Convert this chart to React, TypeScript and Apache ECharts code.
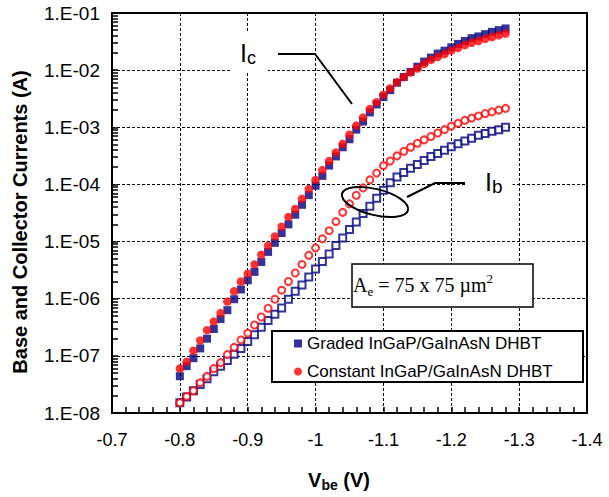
import React, { useEffect, useRef } from 'react';
import * as echarts from 'echarts';

// Base-emitter voltage (V)
const VBE = [
  -0.80, -0.81, -0.82, -0.83, -0.84, -0.85, -0.86, -0.87, -0.88, -0.89,
  -0.90, -0.91, -0.92, -0.93, -0.94, -0.95, -0.96, -0.97, -0.98, -0.99,
  -1.00, -1.01, -1.02, -1.03, -1.04, -1.05, -1.06, -1.07, -1.08, -1.09,
  -1.10, -1.11, -1.12, -1.13, -1.14, -1.15, -1.16, -1.17, -1.18, -1.19,
  -1.20, -1.21, -1.22, -1.23, -1.24, -1.25, -1.26, -1.27, -1.28,
];

// Collector current, graded InGaP/GaInAsN DHBT (A)
const IC_GRADED = [
  4.4e-8, 6.6e-8, 9.1e-8, 1.35e-7, 2.0e-7, 2.95e-7, 4.4e-7, 6.3e-7, 9.8e-7, 1.45e-6,
  2.1e-6, 2.95e-6, 4.4e-6, 6.6e-6, 9.5e-6, 1.41e-5, 2.0e-5, 2.95e-5, 4.4e-5, 6.5e-5,
  9.5e-5, 1.41e-4, 2.14e-4, 3.09e-4, 4.47e-4, 6.17e-4, 9.1e-4, 1.26e-3, 1.82e-3, 2.51e-3,
  3.39e-3, 4.47e-3, 6.03e-3, 7.59e-3, 9.33e-3, 1.15e-2, 1.41e-2, 1.66e-2, 1.95e-2, 2.19e-2,
  2.51e-2, 2.88e-2, 3.24e-2, 3.63e-2, 3.89e-2, 4.27e-2, 4.68e-2, 5.01e-2, 5.37e-2,
];

// Collector current, constant InGaP/GaInAsN DHBT (A)
const IC_CONSTANT = [
  6.0e-8, 7.9e-8, 1.23e-7, 1.86e-7, 2.82e-7, 3.98e-7, 5.6e-7, 8.9e-7, 1.35e-6, 2.0e-6,
  2.75e-6, 3.98e-6, 5.9e-6, 8.5e-6, 1.23e-5, 1.82e-5, 2.69e-5, 3.72e-5, 5.6e-5, 8.3e-5,
  1.2e-4, 1.78e-4, 2.57e-4, 3.63e-4, 5.13e-4, 7.41e-4, 1.07e-3, 1.48e-3, 2.09e-3, 2.75e-3,
  3.72e-3, 4.79e-3, 6.17e-3, 7.59e-3, 9.12e-3, 1.07e-2, 1.29e-2, 1.51e-2, 1.70e-2, 1.91e-2,
  2.19e-2, 2.45e-2, 2.75e-2, 3.02e-2, 3.24e-2, 3.55e-2, 3.80e-2, 4.07e-2, 4.37e-2,
];

// Base current, graded InGaP/GaInAsN DHBT (A)
const IB_GRADED = [
  1.51e-8, 1.91e-8, 2.45e-8, 3.16e-8, 3.98e-8, 5.25e-8, 6.6e-8, 8.3e-8, 1.07e-7, 1.35e-7,
  1.78e-7, 2.34e-7, 3.16e-7, 4.17e-7, 5.37e-7, 6.9e-7, 9.8e-7, 1.35e-6, 1.74e-6, 2.4e-6,
  3.31e-6, 4.47e-6, 6.03e-6, 8.5e-6, 1.15e-5, 1.62e-5, 2.19e-5, 3.09e-5, 4.17e-5, 5.75e-5,
  7.9e-5, 1.07e-4, 1.35e-4, 1.62e-4, 1.91e-4, 2.24e-4, 2.63e-4, 3.09e-4, 3.47e-4, 3.98e-4,
  4.57e-4, 5.13e-4, 5.75e-4, 6.46e-4, 7.24e-4, 7.76e-4, 8.5e-4, 9.1e-4, 1.0e-3,
];

// Base current, constant InGaP/GaInAsN DHBT (A)
const IB_CONSTANT = [
  1.51e-8, 1.95e-8, 2.45e-8, 3.39e-8, 4.37e-8, 6.0e-8, 7.6e-8, 1.05e-7, 1.41e-7, 1.9e-7,
  2.5e-7, 3.47e-7, 4.79e-7, 6.8e-7, 9.8e-7, 1.41e-6, 2.0e-6, 2.82e-6, 3.98e-6, 5.75e-6,
  7.76e-6, 1.12e-5, 1.55e-5, 2.24e-5, 3.24e-5, 4.57e-5, 6.46e-5, 8.7e-5, 1.2e-4, 1.58e-4,
  2.14e-4, 2.57e-4, 3.16e-4, 3.8e-4, 4.47e-4, 5.25e-4, 6.03e-4, 6.9e-4, 7.94e-4, 9.1e-4,
  1.05e-3, 1.17e-3, 1.32e-3, 1.45e-3, 1.58e-3, 1.74e-3, 1.86e-3, 2.0e-3, 2.14e-3,
];

const SERIES_NAMES = ['Graded InGaP/GaInAsN DHBT', 'Constant InGaP/GaInAsN DHBT'];

// Axis ranges
const X_MIN = -1.4;
const X_MAX = -0.7;
const X_STEP = 0.1;
const Y_MIN = 1e-8;
const Y_MAX = 1e-1;

const SANS = '"Liberation Sans", Arial, sans-serif';
const SERIF = '"Liberation Serif", "Times New Roman", serif';
const NAVY = '#000080';
const RED = '#ff0000';

export default function App() {
  const ref = useRef<HTMLDivElement>(null);

  useEffect(() => {
    if (!ref.current) return;
    const chart = echarts.init(ref.current, null, { renderer: 'svg' });

    const pairs = (ys: number[]) => VBE.map((v, i) => [v, ys[i]]);

    const option: any = {
      animation: false,
      backgroundColor: '#fff',
      grid: {
        left: 112, top: 13, right: 22, bottom: 84,
        show: true, borderColor: '#000', borderWidth: 2, backgroundColor: 'transparent',
      },
      legend: {
        data: [
          { name: SERIES_NAMES[0], icon: 'rect' },
          { name: SERIES_NAMES[1], icon: 'circle' },
        ],
        orient: 'vertical',
        left: 294,
        top: 335,
        itemWidth: 8,
        itemHeight: 8,
        itemGap: 11,
        padding: 0,
        selectedMode: false,
        z: 6,
        textStyle: { fontSize: 17, fontFamily: SANS, color: '#000' },
      },
      xAxis: {
        type: 'value',
        inverse: true,
        min: X_MIN,
        max: X_MAX,
        interval: X_STEP,
        axisLine: { show: true, onZero: false, lineStyle: { color: '#000', width: 2 } },
        axisTick: { show: true, inside: true, length: 6, lineStyle: { color: '#000', width: 1.5 } },
        minorTick: { show: true, splitNumber: 5, length: 6, lineStyle: { color: '#000', width: 1.5 } },
        splitLine: { show: true, lineStyle: { color: '#000', type: [3, 2], width: 1 } },
        axisLabel: {
          formatter: (v: number) => String(Math.round(v * 10) / 10),
          fontSize: 18, fontFamily: SANS, color: '#000', margin: 18,
        },
      },
      yAxis: {
        type: 'log',
        logBase: 10,
        min: Y_MIN,
        max: Y_MAX,
        axisLine: { show: true, onZero: false, lineStyle: { color: '#000', width: 2 } },
        axisTick: { show: true, inside: true, length: 6, lineStyle: { color: '#000', width: 1.5 } },
        minorTick: { show: true, splitNumber: 9, length: 6, lineStyle: { color: '#000', width: 1.5 } },
        splitLine: { show: true, lineStyle: { color: '#000', type: [3, 2], width: 1 } },
        axisLabel: {
          formatter: (v: number) => {
            const e = Math.round(Math.log10(v));
            return '1.E' + (e < 0 ? '-' : '+') + String(Math.abs(e)).padStart(2, '0');
          },
          fontSize: 19, fontFamily: SANS, color: '#000', margin: 12,
        },
      },
      series: [
        {
          name: SERIES_NAMES[0], type: 'scatter', symbol: 'rect', symbolSize: 8,
          data: pairs(IC_GRADED), itemStyle: { color: NAVY }, z: 2,
        },
        {
          name: SERIES_NAMES[0], type: 'scatter', symbol: 'rect', symbolSize: 7,
          data: pairs(IB_GRADED), itemStyle: { color: '#fff', borderColor: NAVY, borderWidth: 2 }, z: 2,
        },
        {
          name: SERIES_NAMES[1], type: 'scatter', symbol: 'circle', symbolSize: 8.5,
          data: pairs(IC_CONSTANT), itemStyle: { color: RED }, z: 3,
        },
        {
          name: SERIES_NAMES[1], type: 'scatter', symbol: 'circle', symbolSize: 7,
          data: pairs(IB_CONSTANT), itemStyle: { color: '#fff', borderColor: RED, borderWidth: 2 }, z: 3,
        },
      ],
      graphic: [
        // legend frame
        {
          type: 'rect', z: 5,
          shape: { x: 272, y: 331, width: 311, height: 51 },
          style: { fill: '#fff', stroke: '#000', lineWidth: 2 },
        },
        // area annotation box
        {
          type: 'rect', z: 5,
          shape: { x: 352, y: 264, width: 181, height: 43 },
          style: { fill: '#fff', stroke: '#000', lineWidth: 1.5 },
        },
        {
          type: 'text', z: 6, x: 353, y: 285,
          style: {
            text: '{a|A}{s|e}{a| = 75 x 75 \u00b5m}{p|2}',
            align: 'left', verticalAlign: 'middle',
            rich: {
              a: { fontSize: 20, fontFamily: SERIF, fill: '#000', lineHeight: 26, verticalAlign: 'middle' },
              s: { fontSize: 13, fontFamily: SERIF, fill: '#000', lineHeight: 13, verticalAlign: 'bottom' },
              p: { fontSize: 13, fontFamily: SERIF, fill: '#000', lineHeight: 13, verticalAlign: 'top' },
            },
          },
        },
        // Ic label + leader
        {
          type: 'polyline', z: 5,
          shape: { points: [[278, 54], [315, 54], [352, 104]] },
          style: { stroke: '#000', lineWidth: 2, fill: 'none' },
        },
        {
          type: 'text', z: 6, x: 232, y: 53,
          style: {
            text: '{i|I}{s|c}',
            align: 'left', verticalAlign: 'middle',
            backgroundColor: '#fff', padding: [6, 12, 6, 8],
            rich: {
              i: { fontSize: 25, fontFamily: SANS, fill: '#000', lineHeight: 28, verticalAlign: 'middle' },
              s: { fontSize: 18, fontFamily: SANS, fill: '#000', lineHeight: 18, verticalAlign: 'bottom' },
            },
          },
        },
        // Ib label + leader + ellipse
        {
          type: 'polyline', z: 5,
          shape: { points: [[466, 183], [435, 183], [407, 197]] },
          style: { stroke: '#000', lineWidth: 2, fill: 'none' },
        },
        {
          type: 'ellipse', z: 5, x: 375, y: 202, rotation: -0.245,
          shape: { cx: 0, cy: 0, rx: 34, ry: 13 },
          style: { fill: 'none', stroke: '#000', lineWidth: 2 },
        },
        {
          type: 'text', z: 6, x: 465, y: 182,
          style: {
            text: '{i|I}{s|b}',
            align: 'left', verticalAlign: 'middle',
            backgroundColor: '#fff', padding: [6, 10, 6, 20],
            rich: {
              i: { fontSize: 25, fontFamily: SANS, fill: '#000', lineHeight: 28, verticalAlign: 'middle' },
              s: { fontSize: 19, fontFamily: SANS, fill: '#000', lineHeight: 19, verticalAlign: 'bottom' },
            },
          },
        },
        // axis titles
        {
          type: 'text', z: 6, x: 20, y: 222, rotation: Math.PI / 2,
          style: {
            text: 'Base and Collector Currents (A)',
            fontSize: 20, fontWeight: 'bold', fontFamily: SANS, fill: '#000',
            align: 'center', verticalAlign: 'middle',
          },
        },
        {
          type: 'text', z: 6, x: 339, y: 480,
          style: {
            text: '{v|V}{s|be}{v| (V)}',
            align: 'center', verticalAlign: 'middle',
            rich: {
              v: { fontSize: 20, fontWeight: 'bold', fontFamily: SANS, fill: '#000', lineHeight: 24, verticalAlign: 'middle' },
              s: { fontSize: 14, fontWeight: 'bold', fontFamily: SANS, fill: '#000', lineHeight: 14, verticalAlign: 'bottom' },
            },
          },
        },
      ],
    };

    chart.setOption(option);
    return () => chart.dispose();
  }, []);

  return (
    <div
      ref={ref}
      style={{ position: 'fixed', left: 0, top: 0, width: 609, height: 497, background: '#fff' }}
    />
  );
}
